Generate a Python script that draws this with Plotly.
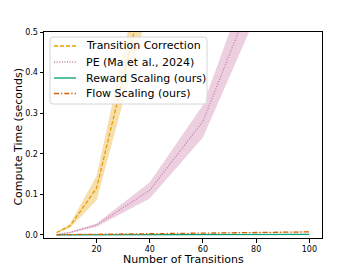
import plotly.graph_objects as go

x_vals = [5, 10, 20, 40, 60, 80, 100]

tc_mean = [0.006, 0.022, 0.115, 0.66, 1.5, 2.8, 4.5]
tc_std = [0.002, 0.005, 0.03, 0.09, 0.2, 0.35, 0.5]

pe_mean = [0.001, 0.006, 0.024, 0.11, 0.28, 0.61, 1.1]
pe_std = [0.0005, 0.002, 0.004, 0.02, 0.04, 0.07, 0.12]

rs_mean = [0.0002, 0.0003, 0.0005, 0.0008, 0.001, 0.0013, 0.0016]
rs_std = [0.0001, 0.0001, 0.0001, 0.0002, 0.0002, 0.0002, 0.0003]

fs_mean = [0.0005, 0.001, 0.0015, 0.003, 0.0045, 0.006, 0.0075]
fs_std = [0.0002, 0.0003, 0.0003, 0.0005, 0.0006, 0.0008, 0.001]

series_names = ["Transition Correction", "PE (Ma et al., 2024)",
                "Reward Scaling (ours)", "Flow Scaling (ours)"]
x_title = "Number of Transitions"
y_title = "Compute Time (seconds)"

series = [
    (series_names[0], tc_mean, tc_std, "#E69F00", "rgba(230,159,0,0.33)", "4px,2px"),
    (series_names[1], pe_mean, pe_std, "#CC79A7", "rgba(204,121,167,0.35)", "1px,1.6px"),
    (series_names[2], rs_mean, rs_std, "#009E73", "rgba(0,158,115,0.3)", "solid"),
    (series_names[3], fs_mean, fs_std, "#D55E00", "rgba(213,94,0,0.3)", "5px,2px,1.3px,2px"),
]

fig = go.Figure()
for name, m, s, col, fcol, dash in series:
    up = [a + b for a, b in zip(m, s)]
    lo = [a - b for a, b in zip(m, s)]
    fig.add_trace(go.Scatter(
        x=x_vals + x_vals[::-1], y=up + lo[::-1], fill="toself", fillcolor=fcol,
        line=dict(width=0), mode="lines", showlegend=False, hoverinfo="skip"))
for name, m, s, col, fcol, dash in series:
    fig.add_trace(go.Scatter(
        x=x_vals, y=m, mode="lines", name=name, showlegend=False,
        line=dict(color=col, width=1.3, dash=dash)))

# custom legend (matplotlib-like compact spacing)
W, H = 278.0, 206.0
bx0, bx1, by0, by1 = 6 / W, 163 / W, 134 / H, 201 / H
rx, ry = 3 / W, 3 / H
path = (f"M {bx0+rx},{by0} L {bx1-rx},{by0} Q {bx1},{by0} {bx1},{by0+ry} "
        f"L {bx1},{by1-ry} Q {bx1},{by1} {bx1-rx},{by1} L {bx0+rx},{by1} "
        f"Q {bx0},{by1} {bx0},{by1-ry} L {bx0},{by0+ry} Q {bx0},{by0} {bx0+rx},{by0} Z")
shapes = [dict(type="path", xref="paper", yref="paper", path=path,
               fillcolor="rgba(255,255,255,0.8)", line=dict(color="#d6d6d6", width=1),
               layer="above")]
annotations = []
row_y = [192 / H, 176 / H, 160 / H, 144.5 / H]
for (name, m, s, col, fcol, dash), ry_ in zip(series, row_y):
    shapes.append(dict(type="line", xref="paper", yref="paper",
                       x0=10 / W, x1=32 / W, y0=ry_, y1=ry_,
                       line=dict(color=col, width=1.3, dash=dash), layer="above"))
    annotations.append(dict(text=name, xref="paper", yref="paper", x=40 / W, y=ry_,
                            xanchor="left", yanchor="middle", showarrow=False,
                            font=dict(size=11, family="DejaVu Sans", color="black")))

# axis titles
annotations.append(dict(text=x_title, xref="paper", yref="paper", x=0.5, y=-21 / H,
                        xanchor="center", yanchor="middle", showarrow=False,
                        font=dict(size=11, family="DejaVu Sans", color="black")))
annotations.append(dict(text=y_title, xref="paper", yref="paper", x=-25.5 / W, y=0.49,
                        xanchor="center", yanchor="middle", showarrow=False, textangle=-90,
                        font=dict(size=11, family="DejaVu Sans", color="black")))

fig.update_layout(
    width=357, height=268,
    margin=dict(l=44, r=35, t=32, b=30),
    plot_bgcolor="white", paper_bgcolor="white",
    font=dict(family="DejaVu Sans", color="black", size=8),
    showlegend=False,
    shapes=shapes, annotations=annotations,
    xaxis=dict(range=[0.25, 104.75], tickvals=[20, 40, 60, 80, 100], automargin=False,
               showgrid=False, zeroline=False, showline=True, linecolor="black",
               linewidth=1, mirror=True, ticks="outside", ticklen=3.5, tickcolor="black",
               tickfont=dict(size=8)),
    yaxis=dict(range=[-0.0075, 0.5], tickvals=[0, 0.1, 0.2, 0.3, 0.4, 0.5], automargin=False,
               ticktext=["0.0", "0.1", "0.2", "0.3", "0.4", "0.5"],
               showgrid=False, zeroline=False, showline=True, linecolor="black",
               linewidth=1, mirror=True, ticks="outside", ticklen=3.5, tickcolor="black",
               tickfont=dict(size=8)),
)

fig.write_html("out.html", config={"displayModeBar": False},
               post_script="document.body.style.margin='0';document.body.style.overflow='hidden';")
